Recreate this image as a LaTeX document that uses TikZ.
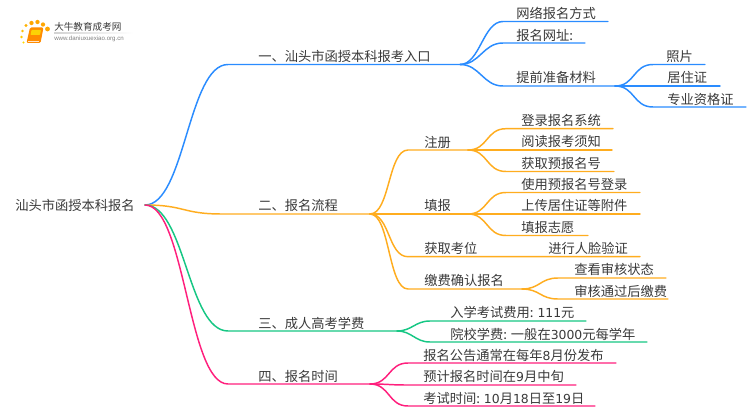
\documentclass[tikz,border=0pt]{standalone}
\usepackage{fontspec}
\setmainfont{Noto Sans CJK SC}
\newfontfamily\latinfont{DejaVu Sans}
\newfontfamily\urlfont{Liberation Sans}
\definecolor{cblue}{HTML}{2A8CFF}
\definecolor{corange}{HTML}{FFAD1F}
\definecolor{cgreen}{HTML}{16C784}
\definecolor{cpink}{HTML}{FF1F7D}
\definecolor{ctext}{HTML}{3A3A3A}
\tikzset{
  txt/.style={anchor=west,inner sep=0pt,text=ctext,font=\fontsize{9.95pt}{11pt}\selectfont},
  wire/.style={line width=1.1pt,line cap=round},
  bl/.style={wire,draw=cblue},
  og/.style={wire,draw=corange},
  gn/.style={wire,draw=cgreen},
  pk/.style={wire,draw=cpink},
  dot/.style={circle,fill=#1,inner sep=0pt,draw=none}
}
% style, from, name, curve-end x, line-end x, y, control offset
\newcommand\conn[7]{%
  \coordinate (#3-a) at (#4,#6);
  \coordinate (#3-b) at (#5,#6);
  \draw[#1] (#2) .. controls +(#7,0) and +(-#7,0) .. (#3-a) -- (#3-b);
}
\newcommand\lat[1]{{\latinfont\fontsize{9.3pt}{11pt}\selectfont #1}}
\begin{document}
\begin{tikzpicture}[x=0.75pt,y=-0.75pt]
\useasboundingbox (0,0) rectangle (750,410);
\fill[white] (0,0) rectangle (750,410);
% logo
\shade[left color=gray!35,right color=white] (54,33) rectangle (133,33.6);
\fill[orange!90!yellow,rounded corners=1pt] (30,27.5) -- (43.5,27.5) -- (40.5,43) -- (26.5,43) -- cycle;
\fill[yellow!70!orange,rounded corners=0.5pt] (31.5,30) -- (41,30) -- (40,35) -- (30.5,35) -- cycle;
\draw[white!80!orange,line width=0.5pt] (28,41) -- (39,41);
\node[dot=orange!70!yellow,minimum size=3.6pt] (d1) at (47.5,29) {};
\node[dot=orange!70!yellow,minimum size=3.2pt] (d2) at (43,24.5) {};
\node[dot=orange!70!yellow,minimum size=3.2pt] (d3) at (37.5,22) {};
\node[dot=orange!70!yellow,minimum size=3.2pt] (d4) at (31.5,23) {};
\node[dot=orange!60!yellow,minimum size=2.6pt] (d5) at (26,25.5) {};
\node[dot=orange!50!yellow,minimum size=2.2pt] (d6) at (22.5,31) {};
\node[dot=orange!40!yellow,minimum size=2pt] (d7) at (21.5,37) {};
\node[dot=orange!30!yellow,minimum size=1.8pt] (d8) at (23.5,42.5) {};
\node[txt,font=\fontsize{7.2pt}{8pt}\selectfont] (logotext) at (54,27) {大牛教育成考网};
\node[txt,text=gray,font=\urlfont\fontsize{4.6pt}{5pt}\selectfont] (logourl) at (54,38.5) {www.daniuxuexiao.org.cn};
% root
\node[txt] (root) at (15,205) {汕头市函授本科报名};
\coordinate (r) at (145,205);
% branch 1
\conn{bl}{r}{b1}{228}{460}{64.5}{40}
\node[txt] (t1) at (258,56) {一、汕头市函授本科报考入口};
\conn{bl}{b1-b}{b11}{503}{608}{21.5}{20}
\node[txt] (t11) at (516,13) {网络报名方式};
\conn{bl}{b1-b}{b12}{503}{585}{43}{20}
\node[txt] (t12) at (516,35) {报名网址:};
\conn{bl}{b1-b}{b13}{503}{615}{86}{20}
\node[txt] (t13) at (516,77.5) {提前准备材料};
\conn{bl}{b13-b}{b131}{653}{705}{64.5}{20}
\node[txt] (t131) at (666,56.5) {照片};
\conn{bl}{b13-b}{b132}{653}{720}{86}{20}
\node[txt] (t132) at (667,77.5) {居住证};
\conn{bl}{b13-b}{b133}{653}{746}{107}{20}
\node[txt] (t133) at (667,99) {专业资格证};
% branch 2
\conn{og}{r}{b2}{222}{370}{214}{40}
\node[txt] (t2) at (258,205.5) {二、报名流程};
\conn{og}{b2-b}{b21}{408}{468}{150}{20}
\node[txt] (t21) at (424,142) {注册};
\conn{og}{b2-b}{b22}{408}{468}{214}{20}
\node[txt] (t22) at (424,205.5) {填报};
\conn{og}{b2-b}{b23}{408}{640}{256.7}{20}
\node[txt] (t23) at (424,248) {获取考位};
\node[txt] (t231) at (548,248) {进行人脸验证};
\conn{og}{b2-b}{b24}{408}{522}{289}{20}
\node[txt] (t24) at (424,280.5) {缴费确认报名};
\conn{og}{b21-b}{b211}{506}{613}{128.7}{20}
\node[txt] (t211) at (521,120) {登录报名系统};
\conn{og}{b21-b}{b212}{506}{612}{150}{20}
\node[txt] (t212) at (521,141.5) {阅读报考须知};
\conn{og}{b21-b}{b213}{506}{614}{171.5}{20}
\node[txt] (t213) at (521,163) {获取预报名号};
\conn{og}{b22-b}{b221}{506}{640}{192.5}{20}
\node[txt] (t221) at (521,184) {使用预报名号登录};
\conn{og}{b22-b}{b222}{506}{640}{214}{20}
\node[txt] (t222) at (521,205.5) {上传居住证等附件};
\conn{og}{b22-b}{b223}{506}{588}{235.5}{20}
\node[txt] (t223) at (521,227) {填报志愿};
\conn{og}{b24-b}{b241}{558}{666}{278}{18}
\node[txt] (t241) at (574,269.5) {查看审核状态};
\conn{og}{b24-b}{b242}{558}{668}{299}{18}
\node[txt] (t242) at (574,291) {审核通过后缴费};
% branch 3
\conn{gn}{r}{b3}{228}{397}{331}{40}
\node[txt] (t3) at (258,323) {三、成人高考学费};
\conn{gn}{b3-b}{b31}{430}{586}{321}{15}
\node[txt] (t31) at (450,312.5) {入学考试费用: \lat{111}元};
\conn{gn}{b3-b}{b32}{430}{647}{342}{15}
\node[txt] (t32) at (450,334) {院校学费: 一般在\lat{3000}元每学年};
% branch 4
\conn{pk}{r}{b4}{228}{370}{384}{40}
\node[txt] (t4) at (258,376) {四、报名时间};
\conn{pk}{b4-b}{b41}{408}{616}{363}{20}
\node[txt] (t41) at (423,355) {报名公告通常在每年\lat{8}月份发布};
\conn{pk}{b4-b}{b42}{408}{576}{385}{20}
\node[txt] (t42) at (423,376.5) {预计报名时间在\lat{9}月中旬};
\conn{pk}{b4-b}{b43}{408}{595}{406}{20}
\node[txt] (t43) at (423,398) {考试时间: \lat{10}月\lat{18}日至\lat{19}日};
\end{tikzpicture}
\end{document}
